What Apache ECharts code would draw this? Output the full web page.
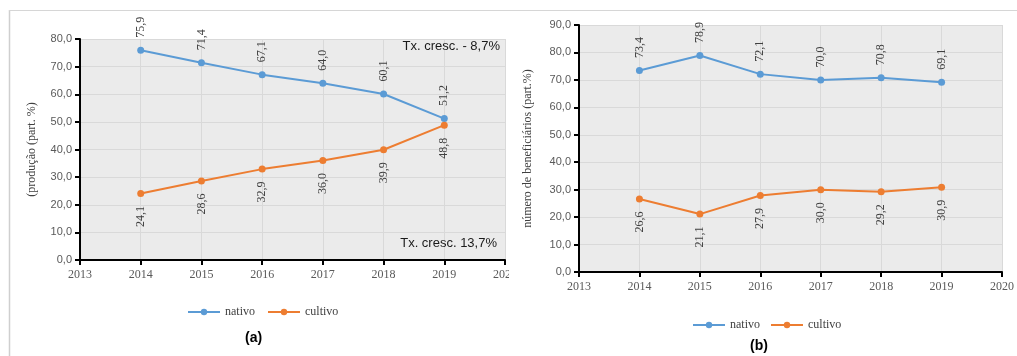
<!DOCTYPE html>
<html>
<head>
<meta charset="utf-8">
<script src="https://cdn.jsdelivr.net/npm/echarts@6/dist/echarts.min.js"></script>
<style>html,body{margin:0;padding:0;background:#fff;}#c{width:1017px;height:356px;}</style>
</head>
<body>
<div id="c"></div>
<script>
const years = [2014, 2015, 2016, 2017, 2018, 2019];
const prodNativo = [75.9, 71.4, 67.1, 64.0, 60.1, 51.2];
const prodCultivo = [24.1, 28.6, 32.9, 36.0, 39.9, 48.8];
const benNativo = [73.4, 78.9, 72.1, 70.0, 70.8, 69.1];
const benCultivo = [26.6, 21.1, 27.9, 30.0, 29.2, 30.9];
const seriesNames = ['nativo', 'cultivo'];
const noteTop = 'Tx. cresc. - 8,7%';
const noteBottom = 'Tx. cresc. 13,7%';

const BLUE = '#5b9bd5', ORANGE = '#ed7d31';
const serif = 'Liberation Serif';
const sans = 'Liberation Sans';
const fmt = v => v.toFixed(1).replace('.', ',');
const pairs = arr => years.map((y, i) => [y, arr[i]]);

function xAxis(gi) {
  return {
    type: 'value', gridIndex: gi, min: 2013, max: 2020, interval: 1,
    axisLine: { lineStyle: { color: '#000', width: 2 } },
    axisTick: { show: true, length: 5, lineStyle: { color: '#000', width: 2 } },
    axisLabel: { color: '#595959', fontFamily: serif, fontSize: 12, margin: 9, formatter: v => String(v) },
    splitLine: { show: true, lineStyle: { color: '#d9d9d9', width: 1 } }
  };
}
function yAxis(gi, max, name, gap) {
  return {
    type: 'value', gridIndex: gi, min: 0, max: max, interval: 10,
    name: name, nameLocation: 'middle', nameGap: gap,
    nameTextStyle: { color: '#404040', fontFamily: serif, fontSize: 12 },
    axisLine: { show: true, lineStyle: { color: '#000', width: 2 } },
    axisTick: { show: true, length: 5, lineStyle: { color: '#000', width: 2 } },
    axisLabel: { color: '#595959', fontFamily: sans, fontSize: 11, margin: 8, formatter: v => fmt(v) },
    splitLine: { show: true, lineStyle: { color: '#d9d9d9', width: 1 } }
  };
}
function line(name, color, data, gi, up) {
  return {
    type: 'line', name: name, xAxisIndex: gi, yAxisIndex: gi,
    data: data, symbol: 'circle', symbolSize: 7,
    lineStyle: { color: color, width: 2 }, itemStyle: { color: color },
    label: {
      show: true, position: up ? 'top' : 'bottom', distance: 9, rotate: 90,
      align: up ? 'left' : 'right', verticalAlign: 'middle',
      color: '#404040', fontFamily: serif, fontSize: 12,
      formatter: p => fmt(p.value[1])
    }
  };
}

const chart = echarts.init(document.getElementById('c'), null, { renderer: 'canvas' });
chart.setOption({
  animation: false,
  grid: [
    { left: 80, top: 39, width: 425, height: 221, show: true, backgroundColor: '#ebebeb', borderWidth: 0 },
    { left: 579, top: 25, width: 424, height: 247, show: true, backgroundColor: '#ebebeb', borderWidth: 0 }
  ],
  xAxis: [xAxis(0), xAxis(1)],
  yAxis: [yAxis(0, 80, '(produção (part. %)', 42), yAxis(1, 90, 'número de beneficiários (part.%)', 45)],
  legend: [
    { data: seriesNames, left: 182, top: 301, itemWidth: 32, itemHeight: 8, itemGap: 12,
      textStyle: { color: '#404040', fontFamily: serif, fontSize: 12 } },
    { data: seriesNames, left: 687, top: 314, itemWidth: 32, itemHeight: 8, itemGap: 10,
      textStyle: { color: '#404040', fontFamily: serif, fontSize: 12 } }
  ],
  title: [
    { text: '(a)', left: 240, top: 326, textStyle: { fontFamily: sans, fontWeight: 'bold', fontSize: 14, color: '#000' } },
    { text: '(b)', left: 745, top: 334, textStyle: { fontFamily: sans, fontWeight: 'bold', fontSize: 14, color: '#000' } }
  ],
  graphic: [
    { type: 'line', shape: { x1: 9.5, y1: 10, x2: 9.5, y2: 356 }, style: { stroke: '#cfcfcf', lineWidth: 1.5 }, silent: true },
    { type: 'line', shape: { x1: 9, y1: 10.5, x2: 1017, y2: 10.5 }, style: { stroke: '#d6d6d6', lineWidth: 1 }, silent: true },
    { type: 'text', right: 517, top: 40, style: { text: noteTop, fill: '#1a1a1a', font: '13px "Liberation Sans"' }, z: 10 },
    { type: 'text', right: 520, top: 237, style: { text: noteBottom, fill: '#1a1a1a', font: '13px "Liberation Sans"' }, z: 10 },
    { type: 'rect', shape: { x: 509, y: 263, width: 14, height: 30 }, style: { fill: '#fff' }, z: 100, silent: true }
  ],
  series: [
    line(seriesNames[0], BLUE, pairs(prodNativo), 0, true),
    line(seriesNames[1], ORANGE, pairs(prodCultivo), 0, false),
    line(seriesNames[0], BLUE, pairs(benNativo), 1, true),
    line(seriesNames[1], ORANGE, pairs(benCultivo), 1, false)
  ]
});
</script>
</body>
</html>
